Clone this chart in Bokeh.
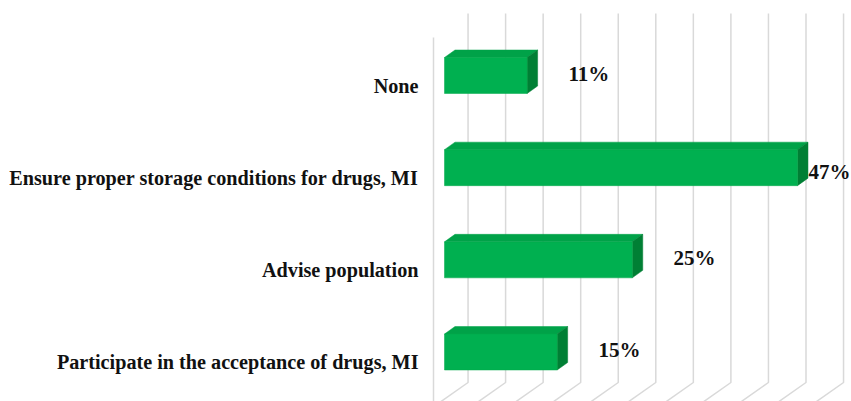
from bokeh.plotting import figure
from bokeh.models import Range1d, ColumnDataSource
from bokeh.core.properties import value
from bokeh.embed import file_html
from bokeh.resources import INLINE

# ---- data ----
categories = ["None",
              "Ensure proper storage conditions for drugs, MI",
              "Advise population",
              "Participate in the acceptance of drugs, MI"]
percents = [11, 47, 25, 15]
grid_values = [5, 10, 15, 20, 25, 30, 35, 40, 45, 50, 55]

# ---- geometry (style constants) ----
W, H = 851, 401
PX_PER_X = 7.51          # pixels per percent
PX_PER_Y = 92.17         # pixels per category step
X0_PX = 444.0            # pixel of 0 %
Y0_PX = 75.0             # pixel of first category centre
xr = Range1d(-X0_PX / PX_PER_X, (W - X0_PX) / PX_PER_X)
yr = Range1d((H - Y0_PX) / PX_PER_Y, -Y0_PX / PX_PER_Y)

def dx(px):
    return px / PX_PER_X

def dy(px):
    return px / PX_PER_Y

p = figure(width=W, height=H, x_range=xr, y_range=yr,
           output_backend="svg", toolbar_location=None,
           min_border=0, min_border_left=0, min_border_right=0,
           min_border_top=0, min_border_bottom=0)
p.axis.visible = False
p.grid.visible = False
p.outline_line_color = None
p.background_fill_color = "white"
p.border_fill_color = "white"

# ---- 3D-ish wall gridlines ----
back_shift = -dx(14)
grid_top = yr.end + dy(13)
grid_floor = yr.end + dy(382)
gx, gy = [], []
for g in grid_values:
    x = g + back_shift
    gx.append([x, x, x - dx(54)])
    gy.append([grid_top, grid_floor, grid_floor + dy(38)])
p.multi_line(gx, gy, line_color="#d9d9d9", line_width=1.5)
# left wall edge
p.line([-dx(11), -dx(11)], [yr.end + dy(37), yr.start + 1], line_color="#d9d9d9", line_width=1.5)

# ---- bars ----
ys = list(range(len(categories)))
bh = dy(36)
ddx, ddy = dx(10.5), dy(7.5)
top_xs, top_ys, side_xs, side_ys = [], [], [], []
for y, v in zip(ys, percents):
    t = y - bh / 2
    b = y + bh / 2
    top_xs.append([0, v, v + ddx, ddx])
    top_ys.append([t, t, t - ddy, t - ddy])
    side_xs.append([v, v + ddx, v + ddx, v])
    side_ys.append([t, t - ddy, b - ddy, b])

p.patches(top_xs, top_ys, fill_color="#00a248", line_color="#00a248", line_width=0.5)
p.patches(side_xs, side_ys, fill_color="#007f34", line_color="#007f34", line_width=0.5)
p.hbar(y=ys, left=0, right=percents, height=bh, fill_color="#00b050",
       line_color="#00a848", line_width=0.5)

# ---- category labels ----
p.text(x=[-dx(26)] * len(categories), y=ys, text=categories,
       text_font=value("Liberation Serif"), text_font_style="bold",
       text_font_size="20.2px", text_color="#111111",
       text_align="right", text_baseline="middle", y_offset=10)

# ---- value labels ----
xmax = xr.end
lab_x, lab_y_off = [], []
for v in percents:
    if v + 5.5 + dx(42) > xmax:
        lab_x.append(v + dx(11))
        lab_y_off.append(4)
    else:
        lab_x.append(v + 5.5)
        lab_y_off.append(-2)
src = ColumnDataSource(dict(x=lab_x, y=ys, t=[f"{v}%" for v in percents], yo=lab_y_off))
p.text(x="x", y="y", text="t", source=src, y_offset="yo",
       text_font=value("Liberation Serif"), text_font_style="bold",
       text_font_size="21px", text_color="#111111",
       text_align="left", text_baseline="middle")

open("out.html", "w").write(file_html(p, INLINE))
